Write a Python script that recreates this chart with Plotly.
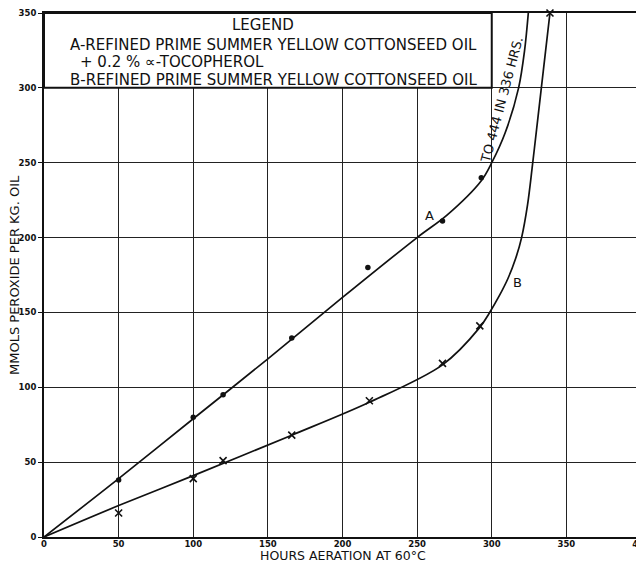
import plotly.graph_objects as go

hours_a = [50, 100, 120, 166, 217, 267, 293]
perox_a = [38, 80, 95, 133, 180, 211, 240]
hours_b = [50, 100, 120, 166, 218, 267, 292, 339]
perox_b = [16, 39, 51, 68, 91, 116, 141, 350]

# Drawn smooth curves
curve_a_hours = [0, 50, 100, 150, 200, 250, 270, 293, 300, 309, 318, 322, 324.5]
curve_a_perox = [0, 39, 79, 119, 160, 200, 215, 238, 250, 270, 300, 325, 350]
curve_b_hours = [0, 50, 100, 166, 218, 267, 292, 298, 305, 311, 316, 320, 324, 327, 330, 333, 336, 339]
curve_b_perox = [0, 21, 41, 68, 90, 115, 140, 149, 161, 173, 186, 200, 222, 246, 272, 298, 324, 350]

x_ticks = [0, 50, 100, 150, 200, 250, 300, 350, 400]
y_ticks = [0, 50, 100, 150, 200, 250, 300, 350]

legend_title = "LEGEND"
legend_a1 = "A-REFINED PRIME SUMMER YELLOW COTTONSEED OIL"
legend_a2 = "+ 0.2 % ∝-TOCOPHEROL"
legend_b = "B-REFINED PRIME SUMMER YELLOW COTTONSEED OIL"
note_a = "TO 444 IN 336 HRS."

FONT = "DejaVu Sans"
INK = "#111111"

fig = go.Figure()
fig.add_trace(go.Scatter(x=curve_a_hours, y=curve_a_perox, mode="lines",
                         line=dict(color=INK, width=1.7, shape="spline", smoothing=0.9),
                         hoverinfo="skip", showlegend=False))
fig.add_trace(go.Scatter(x=curve_b_hours, y=curve_b_perox, mode="lines",
                         line=dict(color=INK, width=1.7, shape="spline", smoothing=0.9),
                         hoverinfo="skip", showlegend=False))
fig.add_trace(go.Scatter(x=hours_a, y=perox_a, mode="markers",
                         marker=dict(symbol="circle", size=5.5, color=INK),
                         showlegend=False, cliponaxis=False))
fig.add_trace(go.Scatter(x=hours_b, y=perox_b, mode="markers",
                         marker=dict(symbol="x-thin", size=7, color=INK,
                                     line=dict(color=INK, width=1.6)),
                         showlegend=False, cliponaxis=False))

# Legend box covering grid
fig.add_shape(type="rect", xref="x", yref="y", x0=0, x1=300, y0=300, y1=350,
              fillcolor="white", line=dict(color=INK, width=2), layer="above")

ann = []
ann.append(dict(x=147, y=342, text=legend_title, xanchor="center", yanchor="middle"))
ann.append(dict(x=16, y=328.5, text=legend_a1, xanchor="left", yanchor="middle"))
ann.append(dict(x=22.5, y=317, text=legend_a2, xanchor="left", yanchor="middle"))
ann.append(dict(x=16, y=305, text=legend_b, xanchor="left", yanchor="middle"))
for a in ann:
    a.update(xref="x", yref="y", showarrow=False, font=dict(family=FONT, size=15, color=INK))
    fig.add_annotation(**a)

fig.add_annotation(x=307, y=292, xref="x", yref="y", text=note_a, textangle=-75,
                   showarrow=False, font=dict(family=FONT, size=13, color=INK))
fig.add_annotation(x=258.5, y=215, xref="x", yref="y", text="A",
                   showarrow=False, font=dict(family=FONT, size=13, color=INK))
fig.add_annotation(x=317, y=170, xref="x", yref="y", text="B",
                   showarrow=False, font=dict(family=FONT, size=13, color=INK))

# Axis titles
fig.add_annotation(x=0.5, y=0, xref="paper", yref="paper", yshift=-18, text="HOURS AERATION AT 60°C",
                   xanchor="center", yanchor="middle", showarrow=False,
                   font=dict(family=FONT, size=12.5, color=INK))
fig.add_annotation(x=0, y=0.5, xref="paper", yref="paper", xshift=-30, text="MMOLS PEROXIDE PER KG. OIL",
                   textangle=-90, xanchor="center", yanchor="middle", showarrow=False,
                   font=dict(family=FONT, size=13, color=INK))

TICKFONT = dict(family="DejaVu Sans", size=8.5, color=INK, weight="bold")
fig.update_xaxes(range=[0, 400], tickvals=x_ticks, ticktext=[str(v) for v in x_ticks],
                 showgrid=True, gridcolor="#222222", gridwidth=1,
                 showline=True, linecolor=INK, linewidth=2, mirror=True,
                 zeroline=False, ticks="", ticklen=0, ticklabeloverflow="allow",
                 ticklabelstandoff=-2,
                 tickfont=TICKFONT, fixedrange=True)
fig.update_yaxes(range=[0, 350], tickvals=y_ticks, ticktext=[str(v) for v in y_ticks],
                 showgrid=True, gridcolor="#222222", gridwidth=1,
                 showline=True, linecolor=INK, linewidth=2, mirror=True,
                 zeroline=False, ticks="outside", ticklen=4, tickcolor=INK, ticklabeloverflow="allow",
                 tickfont=TICKFONT, fixedrange=True)

# page body has an 8px margin, so the figure is sized and offset to compensate
fig.update_layout(width=636, height=555, margin=dict(l=36, r=3, t=5, b=26, autoexpand=False),
                  paper_bgcolor="white", plot_bgcolor="white", showlegend=False)

fig.write_html("out.html")
